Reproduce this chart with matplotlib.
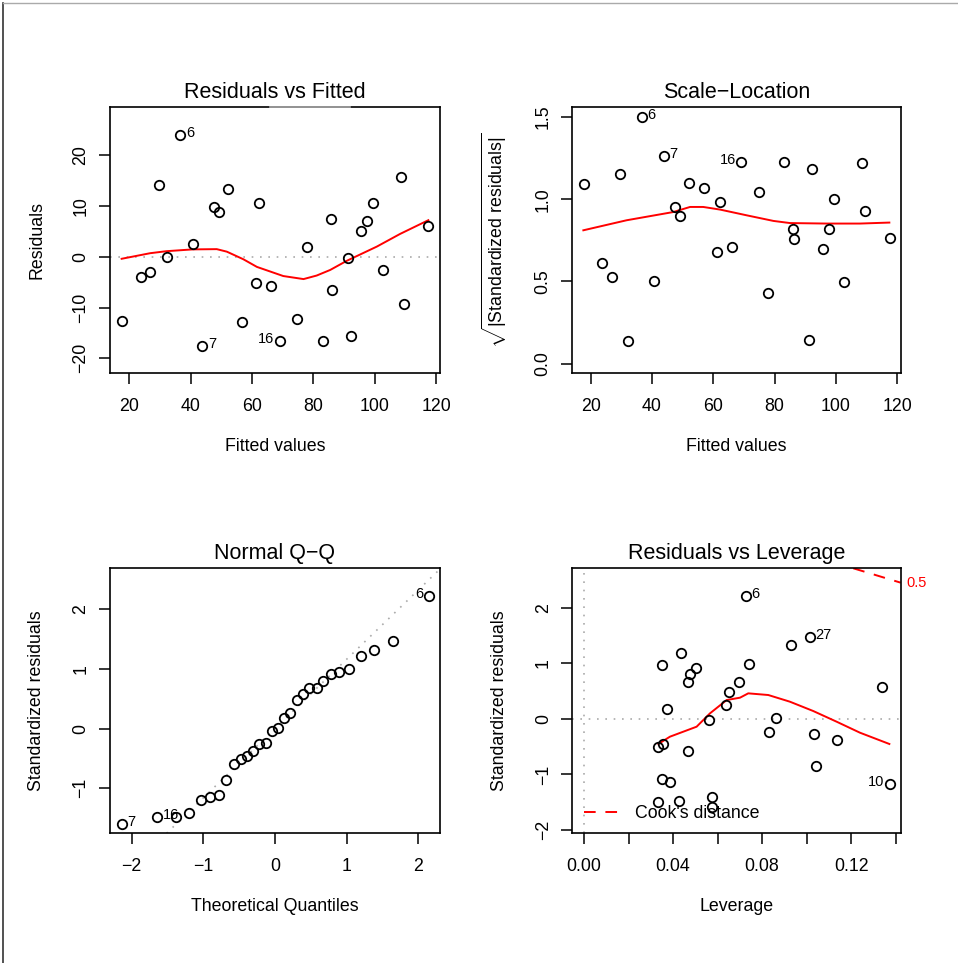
import numpy as np
import matplotlib
matplotlib.use("Agg")
import matplotlib.pyplot as plt
from matplotlib.lines import Line2D

plt.rcParams['font.family'] = ['Liberation Sans', 'DejaVu Sans']
plt.rcParams['mathtext.fontset'] = 'custom'
plt.rcParams['mathtext.rm'] = 'Liberation Sans'
plt.rcParams['mathtext.it'] = 'Liberation Sans:italic'

# --- data ---
fitted = [17.7, 23.7, 26.8, 29.7, 32.2, 36.6, 40.7, 43.8, 47.5, 49.2,
          52.2, 56.8, 61.2, 62.2, 66.1, 69.1, 74.8, 77.9, 83.2, 85.9,
          86.2, 91.3, 92.2, 95.7, 97.6, 99.4, 102.7, 108.6, 109.4, 117.5]
residuals = [-12.6, -4.0, -3.0, 14.1, 0.0, 24.0, 2.6, -17.6, 9.8, 8.9,
             13.4, -12.9, -5.2, 10.6, -5.8, -16.6, -12.3, 2.0, -16.6, 7.4,
             -6.5, -0.2, -15.6, 5.1, 7.1, 10.6, -2.7, 15.7, -9.3, 6.0]
resid_smooth_x = [17.5, 26.8, 32.2, 40.7, 48.5, 51.8, 57.2, 61.6, 70.2, 76.8,
                  81.1, 85.5, 90.9, 100.7, 108.3, 117.5]
resid_smooth_y = [-0.4, 0.7, 1.1, 1.45, 1.5, 1.0, -0.5, -2.0, -3.8, -4.4,
                  -3.7, -2.6, -0.8, 2.0, 4.5, 7.2]
resid_point_labels = {5: "6", 7: "7", 15: "16"}

sqrt_std_resid = [1.093, 0.610, 0.525, 1.156, 0.136, 1.498, 0.503, 1.265, 0.953, 0.898,
                  1.101, 1.071, 0.681, 0.983, 0.712, 1.224, 1.046, 0.432, 1.226, 0.819,
                  0.756, 0.146, 1.186, 0.695, 0.819, 0.999, 0.495, 1.218, 0.931, 0.766]
scale_smooth_x = [17.6, 31.7, 46.9, 52.4, 56.7, 62.2, 70.9, 79.6, 85.0, 97.0, 107.8, 117.4]
scale_smooth_y = [0.811, 0.872, 0.922, 0.953, 0.953, 0.937, 0.902, 0.868, 0.855, 0.852, 0.852, 0.858]

qq_theoretical = [-2.131, -1.643, -1.382, -1.200, -1.037, -0.907, -0.786, -0.680, -0.568, -0.479,
                  -0.395, -0.303, -0.219, -0.121, -0.046, 0.046, 0.121, 0.214, 0.303, 0.386,
                  0.475, 0.582, 0.675, 0.777, 0.898, 1.033, 1.200, 1.382, 1.647, 2.140]
qq_sample = [-1.598, -1.486, -1.486, -1.408, -1.191, -1.141, -1.107, -0.862, -0.589, -0.505,
             -0.466, -0.376, -0.265, -0.243, -0.036, 0.008, 0.181, 0.254, 0.482, 0.582,
             0.678, 0.683, 0.800, 0.912, 0.940, 0.995, 1.213, 1.313, 1.469, 2.217]
qq_labels = {0: ("7", "right"), 1: ("16", "right"), 29: ("6", "left")}
qq_line_intercept = 0.0
qq_line_slope = 1.16

leverage = [0.0332, 0.0353, 0.0349, 0.0371, 0.0352, 0.0385, 0.0331, 0.0428, 0.0434, 0.0467,
            0.0466, 0.0476, 0.0503, 0.0562, 0.0575, 0.0575, 0.0637, 0.0650, 0.0698, 0.0728,
            0.0740, 0.0831, 0.0863, 0.0930, 0.1014, 0.1033, 0.1044, 0.1135, 0.1337, 0.1373]
std_resid_lev = [-0.506, -0.458, 0.963, 0.183, -1.088, -1.130, -1.502, -1.478, 1.191, -0.573,
                 0.663, 0.801, 0.921, -0.027, -1.406, -1.580, 0.249, 0.477, 0.663, 2.210,
                 0.987, -0.231, 0.021, 1.334, 1.473, -0.279, -0.855, -0.375, 0.573, -1.178]
lev_labels = {19: ("6", "right"), 24: ("27", "right"), 29: ("10", "left")}
lev_smooth_x = [0.0334, 0.0386, 0.0506, 0.0566, 0.0641, 0.0701, 0.0738, 0.0828, 0.0925,
                0.1030, 0.1135, 0.1240, 0.1372]
lev_smooth_y = [-0.452, -0.321, -0.141, 0.099, 0.339, 0.381, 0.459, 0.429, 0.309,
                0.141, -0.051, -0.249, -0.452]
cook_x = [0.121, 0.1423]
cook_y = [2.709, 2.450]

FS = 12.8
TITLE_FS = 15.5
LAB_FS = 10.5
RED = '#ff0000'

fig = plt.figure(figsize=(9.58, 9.63), dpi=100)

# thin frame lines on the left and top edges of the picture
fig.add_artist(Line2D([3 / 958, 3 / 958], [0, 1 - 3 / 963], transform=fig.transFigure,
                      color='#333333', lw=1.2))
fig.add_artist(Line2D([3 / 958, 1], [1 - 3 / 963, 1 - 3 / 963], transform=fig.transFigure,
                      color='#aaaaaa', lw=1.0))


def style(ax, xlim, ylim, xticks, yticks, xticklabels=None, yticklabels=None):
    ax.set_xlim(xlim)
    ax.set_ylim(ylim)
    ax.set_xticks(xticks)
    if xticklabels is not None:
        ax.set_xticklabels(xticklabels)
    ax.set_yticks(yticks)
    if yticklabels is not None:
        ax.set_yticklabels(yticklabels)
    ax.tick_params(direction='out', length=8.2, width=1.1, labelsize=FS, colors='black')
    ax.tick_params(axis='x', pad=9.5)
    ax.tick_params(axis='y', pad=6.5, labelrotation=90)
    for lab in ax.get_yticklabels():
        lab.set_va('center')
    for s in ax.spines.values():
        s.set_linewidth(1.2)
        s.set_color('black')


def points(ax, x, y):
    ax.plot(x, y, 'o', mfc='none', mec='black', ms=6.8, mew=1.3, zorder=3)


def label(ax, x, y, text, side):
    if side == "right":
        ax.annotate(text, (x, y), xytext=(4, 1.5), textcoords='offset points',
                    ha='left', va='center', fontsize=LAB_FS)
    else:
        ax.annotate(text, (x, y), xytext=(-4, 1.5), textcoords='offset points',
                    ha='right', va='center', fontsize=LAB_FS)


# Residuals vs Fitted
ax1 = fig.add_axes([0.11482, 0.61267, 0.34447, 0.27622])
ax1.axhline(0, color='#aaaaaa', ls=(0, (1, 4)), lw=1.2)
points(ax1, fitted, residuals)
ax1.plot(resid_smooth_x, resid_smooth_y, color=RED, lw=1.4)
for i, t in resid_point_labels.items():
    label(ax1, fitted[i], residuals[i], t, "left" if t == "16" else "right")
style(ax1, (13.7, 121.3), (-22.9, 29.5), [20, 40, 60, 80, 100, 120], [-20, -10, 0, 10, 20])
ax1.set_title("Residuals vs Fitted", fontsize=TITLE_FS, pad=6.5)
ax1.set_xlabel("Fitted values", fontsize=FS)
ax1.set_ylabel("Residuals", fontsize=FS)
ax1.xaxis.set_label_coords(0.5, -0.245)
ax1.yaxis.set_label_coords(-0.196, 0.5)
ax1.plot([0.485, 0.727], [1, 1], transform=ax1.transAxes, color='#aaaaaa', lw=1.2,
         clip_on=False, zorder=5)

# Scale-Location
ax2 = fig.add_axes([0.59676, 0.61267, 0.34342, 0.27622])
points(ax2, fitted, sqrt_std_resid)
ax2.plot(scale_smooth_x, scale_smooth_y, color=RED, lw=1.4)
for i, t in resid_point_labels.items():
    label(ax2, fitted[i], sqrt_std_resid[i], t, "left" if t == "16" else "right")
style(ax2, (13.8, 121.1), (-0.057, 1.561), [20, 40, 60, 80, 100, 120], [0.0, 0.5, 1.0, 1.5],
      None, ["0.0", "0.5", "1.0", "1.5"])
ax2.set_title("Scale\u2212Location", fontsize=TITLE_FS, pad=6.5)
ax2.set_xlabel("Fitted values", fontsize=FS)
ax2.set_ylabel(r"$\sqrt{|\mathrm{Standardized\ residuals}|}$", fontsize=FS)
ax2.xaxis.set_label_coords(0.5, -0.245)
ax2.yaxis.set_label_coords(-0.19, 0.5)

# Normal Q-Q
ax3 = fig.add_axes([0.11482, 0.13468, 0.34447, 0.27549])
ax3.axline((0, qq_line_intercept), slope=qq_line_slope, color='#aaaaaa', ls=(0, (1, 4)), lw=1.2)
points(ax3, qq_theoretical, qq_sample)
for i, (t, side) in qq_labels.items():
    label(ax3, qq_theoretical[i], qq_sample[i], t, side)
style(ax3, (-2.30, 2.30), (-1.753, 2.685), [-2, -1, 0, 1, 2], [-1, 0, 1, 2])
ax3.set_title("Normal Q\u2212Q", fontsize=TITLE_FS, pad=6.5)
ax3.set_xlabel("Theoretical Quantiles", fontsize=FS)
ax3.set_ylabel("Standardized residuals", fontsize=FS)
ax3.xaxis.set_label_coords(0.5, -0.245)
ax3.yaxis.set_label_coords(-0.196, 0.5)

# Residuals vs Leverage
ax4 = fig.add_axes([0.59739, 0.13468, 0.3428, 0.27549])
ax4.axhline(0, color='#aaaaaa', ls=(0, (1, 4)), lw=1.2)
ax4.axvline(0, color='#aaaaaa', ls=(0, (1, 4)), lw=1.2)
points(ax4, leverage, std_resid_lev)
ax4.plot(lev_smooth_x, lev_smooth_y, color=RED, lw=1.4)
ax4.plot(cook_x, cook_y, color=RED, lw=1.4, ls=(0, (6, 5)))
ax4.annotate("0.5", (1.0, cook_y[-1]), xycoords=('axes fraction', 'data'), xytext=(4, 0),
             textcoords='offset points', ha='left', va='center', color=RED, fontsize=LAB_FS,
             annotation_clip=False)
for i, (t, side) in lev_labels.items():
    label(ax4, leverage[i], std_resid_lev[i], t, side)
lev_ticks = [0.00, 0.02, 0.04, 0.06, 0.08, 0.10, 0.12, 0.14]
lev_ticklabels = ["0.00", "", "0.04", "", "0.08", "", "0.12", ""]
style(ax4, (-0.00526, 0.1423), (-2.059, 2.714), lev_ticks, [-2, -1, 0, 1, 2], lev_ticklabels)
ax4.set_title("Residuals vs Leverage", fontsize=TITLE_FS, pad=6.5)
ax4.set_xlabel("Leverage", fontsize=FS)
ax4.set_ylabel("Standardized residuals", fontsize=FS)
ax4.xaxis.set_label_coords(0.5, -0.245)
ax4.yaxis.set_label_coords(-0.196, 0.5)
cook_handle = Line2D([], [], color=RED, lw=1.4, ls=(0, (6, 5)))
ax4.legend([cook_handle], ["Cook's distance"], loc='lower left', bbox_to_anchor=(0.0, 0.0),
           frameon=False, fontsize=FS, handlelength=1.9, handletextpad=1.0,
           borderaxespad=0.25)

fig.savefig("out.png", dpi=100)
